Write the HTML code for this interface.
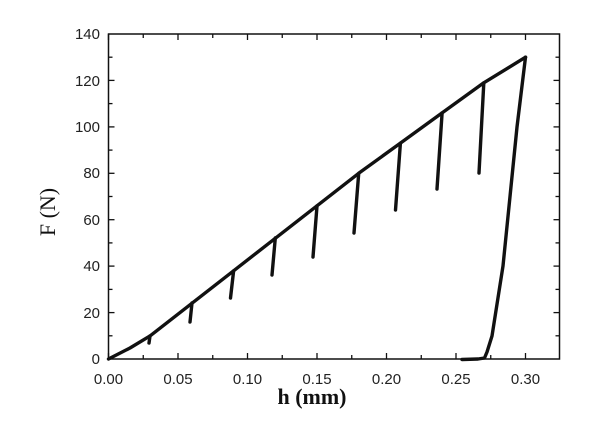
<!DOCTYPE html>
<html><head><meta charset="utf-8"><style>
html,body{margin:0;padding:0;background:#fff;}
svg{display:block;}
</style></head><body>
<svg width="615" height="431" viewBox="0 0 615 431" xmlns="http://www.w3.org/2000/svg">
<rect width="615" height="431" fill="#fff"/>
<g stroke="#111" stroke-width="1.5" fill="none">
<rect x="108.5" y="34" width="451" height="325"/>
</g>
<g stroke="#111" stroke-width="1.3">
<line x1="108.5" y1="359" x2="108.5" y2="353"/><line x1="143.25" y1="359" x2="143.25" y2="355"/>
<line x1="178" y1="359" x2="178" y2="353"/><line x1="212.75" y1="359" x2="212.75" y2="355"/>
<line x1="247.5" y1="359" x2="247.5" y2="353"/><line x1="282.25" y1="359" x2="282.25" y2="355"/>
<line x1="317" y1="359" x2="317" y2="353"/><line x1="351.75" y1="359" x2="351.75" y2="355"/>
<line x1="386.5" y1="359" x2="386.5" y2="353"/><line x1="421.25" y1="359" x2="421.25" y2="355"/>
<line x1="456" y1="359" x2="456" y2="353"/><line x1="490.75" y1="359" x2="490.75" y2="355"/>
<line x1="525.5" y1="359" x2="525.5" y2="353"/>
<line x1="108.5" y1="34" x2="108.5" y2="40"/><line x1="143.25" y1="34" x2="143.25" y2="38"/>
<line x1="178" y1="34" x2="178" y2="40"/><line x1="212.75" y1="34" x2="212.75" y2="38"/>
<line x1="247.5" y1="34" x2="247.5" y2="40"/><line x1="282.25" y1="34" x2="282.25" y2="38"/>
<line x1="317" y1="34" x2="317" y2="40"/><line x1="351.75" y1="34" x2="351.75" y2="38"/>
<line x1="386.5" y1="34" x2="386.5" y2="40"/><line x1="421.25" y1="34" x2="421.25" y2="38"/>
<line x1="456" y1="34" x2="456" y2="40"/><line x1="490.75" y1="34" x2="490.75" y2="38"/>
<line x1="525.5" y1="34" x2="525.5" y2="40"/>
<line x1="108.5" y1="312.6" x2="114.5" y2="312.6"/><line x1="108.5" y1="266.1" x2="114.5" y2="266.1"/>
<line x1="108.5" y1="219.7" x2="114.5" y2="219.7"/><line x1="108.5" y1="173.3" x2="114.5" y2="173.3"/>
<line x1="108.5" y1="126.9" x2="114.5" y2="126.9"/><line x1="108.5" y1="80.4" x2="114.5" y2="80.4"/>
<line x1="108.5" y1="335.8" x2="112.5" y2="335.8"/><line x1="108.5" y1="289.4" x2="112.5" y2="289.4"/>
<line x1="108.5" y1="242.9" x2="112.5" y2="242.9"/><line x1="108.5" y1="196.5" x2="112.5" y2="196.5"/>
<line x1="108.5" y1="150.1" x2="112.5" y2="150.1"/><line x1="108.5" y1="103.6" x2="112.5" y2="103.6"/>
<line x1="108.5" y1="57.2" x2="112.5" y2="57.2"/>
<line x1="559.5" y1="312.6" x2="553.5" y2="312.6"/><line x1="559.5" y1="266.1" x2="553.5" y2="266.1"/>
<line x1="559.5" y1="219.7" x2="553.5" y2="219.7"/><line x1="559.5" y1="173.3" x2="553.5" y2="173.3"/>
<line x1="559.5" y1="126.9" x2="553.5" y2="126.9"/><line x1="559.5" y1="80.4" x2="553.5" y2="80.4"/>
<line x1="559.5" y1="335.8" x2="555.5" y2="335.8"/><line x1="559.5" y1="289.4" x2="555.5" y2="289.4"/>
<line x1="559.5" y1="242.9" x2="555.5" y2="242.9"/><line x1="559.5" y1="196.5" x2="555.5" y2="196.5"/>
<line x1="559.5" y1="150.1" x2="555.5" y2="150.1"/><line x1="559.5" y1="103.6" x2="555.5" y2="103.6"/>
<line x1="559.5" y1="57.2" x2="555.5" y2="57.2"/>
</g>
<g font-family="Liberation Sans, sans-serif" font-size="15" fill="#222">
<g text-anchor="middle">
<text x="108.5" y="384">0.00</text><text x="178" y="384">0.05</text><text x="247.5" y="384">0.10</text>
<text x="317" y="384">0.15</text><text x="386.5" y="384">0.20</text><text x="456" y="384">0.25</text><text x="525.5" y="384">0.30</text>
</g>
<g text-anchor="end">
<text x="100" y="364">0</text><text x="100" y="318">20</text><text x="100" y="271">40</text>
<text x="100" y="225">60</text><text x="100" y="178">80</text><text x="100" y="132">100</text>
<text x="100" y="86">120</text><text x="100" y="39">140</text>
</g>
</g>
<text x="312" y="404" text-anchor="middle" font-family="Liberation Serif, serif" font-size="22" font-weight="bold" fill="#111">h (mm)</text>
<text transform="translate(55,212) rotate(-90)" text-anchor="middle" font-family="Liberation Serif, serif" font-size="22" fill="#111">F (N)</text>
<g stroke="#111" stroke-width="3.4" fill="none" stroke-linecap="round" stroke-linejoin="round">
<polyline points="108.5,359 130,348 150.2,335.8 191.9,303.3 233.6,270.8 275.3,238.3 317,205.8 358.7,173.3 400.4,143.1 442.1,112.9 483.8,82.8 525.5,57.2"/>
<line x1="150" y1="336" x2="149" y2="343"/>
<line x1="192" y1="303" x2="190" y2="322"/>
<line x1="233.6" y1="271" x2="230.5" y2="298"/>
<line x1="275.3" y1="238" x2="272" y2="275"/>
<line x1="317" y1="206" x2="313" y2="257"/>
<line x1="358.7" y1="173.5" x2="354" y2="233"/>
<line x1="400.4" y1="143.3" x2="395.5" y2="210"/>
<line x1="442.1" y1="113" x2="437" y2="189"/>
<line x1="483.8" y1="83" x2="479" y2="173"/>
<polyline points="525.5,57.2 517,127 503,266 492,336 487,352 484.5,358 478,359 462,359.5"/>
</g>
</svg>
</body></html>
